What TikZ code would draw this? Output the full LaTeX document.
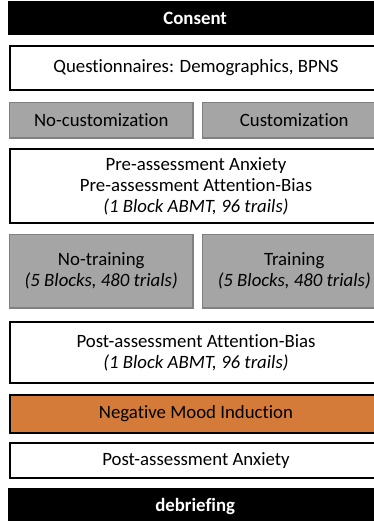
\documentclass[tikz,border=0pt]{standalone}
\usepackage{fontspec}
\setmainfont{Carlito}[Ligatures=NoCommon]
\definecolor{boxgray}{HTML}{A5A5A5}
\definecolor{edgegray}{HTML}{808080}
\definecolor{moodorange}{HTML}{D47B3A}
\begin{document}
\begin{tikzpicture}[
                x=1pt,y=-1pt,
                every node/.append style={anchor=north west,inner sep=0pt,align=center,font=\fontsize{18.8}{21}\selectfont},
                darkbox/.style={fill=black,text=white,font=\fontsize{18.8}{21}\selectfont\bfseries,minimum width=374pt},
                whitebox/.style={draw=black,line width=2pt,fill=white,minimum width=372pt},
                graybox/.style={draw=edgegray,line width=1.5pt,fill=boxgray,minimum width=183.5pt},
                moodbox/.style={draw=black,line width=2pt,fill=moodorange,minimum width=372pt}
            ]
                \useasboundingbox (0,0) rectangle (374,521);
                \clip (0,0) rectangle (374,521);
                \node[darkbox,minimum height=34pt] (consent) at (8,1) {Consent};
                \node[whitebox,minimum height=44pt] (quest) at (9,45) {Questionnaires: Demographics, BPNS};
                \node[graybox,minimum height=35.5pt] (nocust) at (8.75,101.75) {No-customization};
                \node[graybox,minimum height=35.5pt] (cust) at (201.75,101.75) {Customization};
                \node[whitebox,minimum height=74pt] (pre) at (9,148) {Pre-assessment Anxiety\\Pre-assessment Attention-Bias\\\textit{(1 Block ABMT, 96 trails)}};
                \node[graybox,minimum height=73.5pt] (notrain) at (8.75,233.75) {No-training\\\textit{(5 Blocks, 480 trials)}};
                \node[graybox,minimum height=73.5pt] (train) at (201.75,233.75) {Training\\\textit{(5 Blocks, 480 trials)}};
                \node[whitebox,minimum height=61pt] (post) at (9,321) {Post-assessment Attention-Bias\\\textit{(1 Block ABMT, 96 trails)}};
                \node[moodbox,minimum height=38pt] (mood) at (9,394) {Negative Mood Induction};
                \node[whitebox,minimum height=35pt] (postanx) at (9,442) {Post-assessment Anxiety};
                \node[darkbox,minimum height=36pt] (debrief) at (8,488) {debriefing};
            \end{tikzpicture}
\end{document}
